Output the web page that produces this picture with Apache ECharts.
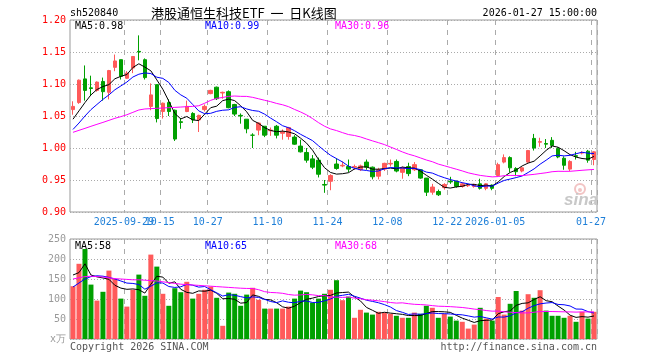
<!DOCTYPE html>
<html><head><meta charset="utf-8">
<script src="https://cdn.jsdelivr.net/npm/echarts@6/dist/echarts.min.js"></script>
<style>html,body{margin:0;padding:0;background:#fff}#c{width:660px;height:360px}</style>
</head><body><div id="c"></div>
<script>
const dates = ['2025-09-16','2025-09-17','2025-09-18','2025-09-19','2025-09-22','2025-09-23','2025-09-24','2025-09-25','2025-09-26','2025-09-29','2025-09-30','2025-10-09','2025-10-10','2025-10-13','2025-10-14','2025-10-15','2025-10-16','2025-10-17','2025-10-20','2025-10-21','2025-10-22','2025-10-23','2025-10-24','2025-10-27','2025-10-28','2025-10-29','2025-10-30','2025-10-31','2025-11-03','2025-11-04','2025-11-05','2025-11-06','2025-11-07','2025-11-10','2025-11-11','2025-11-12','2025-11-13','2025-11-14','2025-11-17','2025-11-18','2025-11-19','2025-11-20','2025-11-21','2025-11-24','2025-11-25','2025-11-26','2025-11-27','2025-11-28','2025-12-01','2025-12-02','2025-12-03','2025-12-04','2025-12-05','2025-12-08','2025-12-09','2025-12-10','2025-12-11','2025-12-12','2025-12-15','2025-12-16','2025-12-17','2025-12-18','2025-12-19','2025-12-22','2025-12-23','2025-12-24','2025-12-25','2025-12-26','2025-12-29','2025-12-30','2025-12-31','2026-01-05','2026-01-06','2026-01-07','2026-01-08','2026-01-09','2026-01-12','2026-01-13','2026-01-14','2026-01-15','2026-01-16','2026-01-19','2026-01-20','2026-01-21','2026-01-22','2026-01-23','2026-01-26','2026-01-27'];

const openP  = [1.060,1.071,1.108,1.094,1.090,1.104,1.087,1.126,1.138,1.109,1.125,1.151,1.138,1.065,1.099,1.057,1.071,1.059,1.041,1.057,1.054,1.044,1.060,1.085,1.095,1.086,1.088,1.068,1.051,1.045,1.020,1.028,1.034,1.027,1.034,1.023,1.018,1.017,1.003,0.993,0.983,0.981,0.943,0.948,0.975,0.972,0.971,0.970,0.966,0.978,0.970,0.956,0.967,0.975,0.979,0.962,0.971,0.966,0.966,0.953,0.931,0.932,0.938,0.948,0.948,0.940,0.941,0.940,0.944,0.937,0.942,0.957,0.978,0.985,0.968,0.964,0.978,1.015,1.009,1.007,1.012,0.999,0.984,0.967,0.988,0.992,0.995,0.982];
const closeP = [1.065,1.106,1.090,1.093,1.103,1.088,1.121,1.136,1.112,1.117,1.143,1.150,1.110,1.083,1.046,1.070,1.057,1.014,1.040,1.065,1.044,1.051,1.065,1.090,1.077,1.087,1.063,1.053,1.050,1.030,1.020,1.039,1.020,1.028,1.020,1.025,1.032,1.006,0.994,0.981,0.970,0.959,0.942,0.957,0.968,0.973,0.967,0.971,0.972,0.970,0.955,0.966,0.976,0.976,0.964,0.969,0.960,0.974,0.953,0.931,0.939,0.927,0.943,0.947,0.940,0.944,0.942,0.943,0.937,0.944,0.937,0.974,0.985,0.969,0.963,0.969,0.996,1.000,1.010,1.006,1.004,0.986,0.973,0.979,0.987,0.993,0.981,0.994];
const lowP   = [1.052,1.069,1.074,1.082,1.088,1.074,1.076,1.120,1.107,1.108,1.117,1.137,1.107,1.059,1.040,1.046,1.050,1.011,1.030,1.056,1.039,1.025,1.057,1.084,1.075,1.077,1.062,1.050,1.038,1.023,1.000,1.020,1.017,1.019,1.015,1.013,1.013,1.005,0.993,0.977,0.967,0.954,0.930,0.934,0.966,0.970,0.962,0.966,0.964,0.966,0.951,0.951,0.964,0.971,0.962,0.952,0.956,0.964,0.952,0.925,0.927,0.925,0.935,0.944,0.938,0.938,0.939,0.938,0.935,0.934,0.934,0.956,0.976,0.962,0.956,0.962,0.977,0.996,1.002,1.000,1.000,0.984,0.966,0.964,0.982,0.990,0.977,0.973];
const highP  = [1.073,1.107,1.129,1.113,1.104,1.110,1.122,1.146,1.138,1.120,1.143,1.176,1.140,1.101,1.099,1.071,1.076,1.060,1.047,1.074,1.056,1.052,1.068,1.091,1.096,1.088,1.090,1.069,1.054,1.045,1.023,1.040,1.034,1.032,1.036,1.029,1.033,1.020,1.013,1.000,0.989,0.985,0.950,0.959,0.984,0.979,0.982,0.974,0.974,0.982,0.971,0.969,0.977,0.982,0.982,0.971,0.977,0.978,0.967,0.953,0.944,0.935,0.945,0.955,0.949,0.946,0.943,0.944,0.952,0.945,0.943,0.977,0.990,0.987,0.970,0.970,0.997,1.022,1.016,1.014,1.017,1.001,0.987,0.981,0.994,0.995,0.997,0.995];
const volume = [132,188,225,136,96,118,171,150,101,81,123,161,108,211,181,113,83,127,117,143,101,113,123,131,103,33,116,113,83,111,128,98,76,76,76,76,81,101,121,117,91,101,113,123,147,97,106,53,73,66,61,68,66,63,58,53,53,66,63,83,78,53,63,56,46,43,26,36,78,51,46,105,61,88,120,71,112,103,122,71,58,58,53,58,43,68,51,68];

// moving-average values at the start of the window (prior history not shown)
const ma5Head  = [1.045,1.058,1.071,1.083];
const ma10Head = [1.029,1.039,1.050,1.060,1.068,1.076,1.083,1.091,1.097];
const ma30Head = [1.0245,1.0276,1.0307,1.0339,1.037,1.040,1.0432,1.0464,1.049,1.052,1.0557,1.0594,1.061,1.0615,1.062,1.0625,1.063,1.0635,1.064,1.0646,1.065,1.066,1.070,1.0745,1.0776,1.079,1.0807,1.0812,1.0807];
const vma5Head  = [160,166,188,160];
const vma10Head = [130,140,150,156,158,157,154,150,145];
const vma30Head = [150,153,156,157,156,155,153,151,150,149,148,148,147,146,145,143,141,139,137,136,135,134,133,132,131,130,129,128,127];

const tickDates = ['2025-09-29','2025-10-15','2025-10-27','2025-11-10','2025-11-24','2025-12-08','2025-12-22','2026-01-05','2026-01-27'];
const tickTexts = ['2025-09-29','10-15','10-27','11-10','11-24','12-08','12-22','2026-01-05','01-27'];
const priceTicks = [0.90,1.20,0.05];
const volTicks = [0,250,50];

function ma(vals, n, head) {
  return vals.map((_, i) => {
    if (i < n - 1) return head[i];
    let s = 0; for (let k = i - n + 1; k <= i; k++) s += vals[k];
    return s / n;
  });
}
const ma5 = ma(closeP,5,ma5Head), ma10 = ma(closeP,10,ma10Head), ma30 = ma(closeP,30,ma30Head);
const vma5 = ma(volume,5,vma5Head), vma10 = ma(volume,10,vma10Head), vma30 = ma(volume,30,vma30Head);
const fp = v => (Math.floor(v*100+1e-6)/100).toFixed(2);
const last = a => a[a.length-1];

const UP='#ff5a5a', DN='#00a000';
const MONO="'DejaVu Sans Mono', monospace";
const isTick = (i, v) => tickDates.indexOf(v) >= 0;
// labels split over two axes so that overlapping neighbours are both drawn
const isTickA = (i, v) => { const k = tickDates.indexOf(v); return k >= 0 && k % 2 === 1; };
const isTickB = (i, v) => { const k = tickDates.indexOf(v); return k >= 0 && k % 2 === 0; };
const fmtTick = v => tickTexts[tickDates.indexOf(v)] || '';

const chart = echarts.init(document.getElementById('c'), null, {renderer:'canvas'});
function txt(x, y, text, color, align, font) {
  return {type:'text', x:x, y:y, silent:true, z:100,
    style:{text:text, fill:color, font: font || ('10px ' + MONO), textAlign:align||'left', textVerticalAlign:'middle', align:align||'left', verticalAlign:'middle'}};
}
const splitDash = {show:true, interval:isTick, lineStyle:{color:'#aaa', type:[5,5], width:1}};
const splitDot = {show:true, lineStyle:{color:'#aaa', type:[1,2], width:1}};
const labelBase = {hideOverlap:false, formatter:fmtTick, color:'#1e7fd8', fontFamily:MONO, fontSize:10, margin:5, padding:[0,6,0,0]};

chart.setOption({
  animation:false,
  backgroundColor:'#fff',
  grid:[
    {left:70, top:20, width:527, height:192, show:true, borderColor:'#999', borderWidth:1},
    {left:70, top:239, width:527, height:100, show:true, borderColor:'#999', borderWidth:1}
  ],
  xAxis:[
    {type:'category', gridIndex:0, data:dates, boundaryGap:true,
     axisLine:{show:false}, axisTick:{show:false}, splitLine:splitDash,
     axisLabel:Object.assign({interval:isTickA}, labelBase)},
    {type:'category', gridIndex:1, data:dates, boundaryGap:true,
     axisLine:{show:false}, axisTick:{show:false}, axisLabel:{show:false}, splitLine:splitDash},
    {type:'category', gridIndex:0, data:dates, boundaryGap:true, position:'bottom',
     axisLine:{show:false}, axisTick:{show:false}, splitLine:{show:false},
     axisLabel:Object.assign({interval:isTickB}, labelBase)}
  ],
  yAxis:[
    {type:'value', gridIndex:0, min:priceTicks[0], max:priceTicks[1], interval:priceTicks[2],
     axisLine:{show:false}, axisTick:{show:false}, splitLine:splitDot,
     axisLabel:{formatter:v=>v.toFixed(2), color:'#ff0000', fontFamily:MONO, fontSize:10, margin:4}},
    {type:'value', gridIndex:1, min:volTicks[0], max:volTicks[1], interval:volTicks[2],
     axisLine:{show:false}, axisTick:{show:false}, splitLine:splitDot,
     axisLabel:{formatter:v=>v===0?'x万':String(v), color:'#999', fontFamily:MONO, fontSize:10, margin:4}}
  ],
  series:[
    {type:'candlestick', xAxisIndex:0, yAxisIndex:0, barWidth:4,
     data:dates.map((d,i)=>[openP[i],closeP[i],lowP[i],highP[i]]),
     itemStyle:{color:UP, color0:DN, borderColor:UP, borderColor0:DN, borderWidth:1}},
    {type:'line', xAxisIndex:0, yAxisIndex:0, data:ma5, symbol:'none', lineStyle:{color:'#000', width:1}, itemStyle:{color:'#000'}},
    {type:'line', xAxisIndex:0, yAxisIndex:0, data:ma10, symbol:'none', lineStyle:{color:'#0000ff', width:1}, itemStyle:{color:'#0000ff'}},
    {type:'line', xAxisIndex:0, yAxisIndex:0, data:ma30, symbol:'none', lineStyle:{color:'#ff00ff', width:1}, itemStyle:{color:'#ff00ff'}},
    {type:'bar', xAxisIndex:1, yAxisIndex:1, barWidth:5,
     data:volume.map((v,i)=>({value:v, itemStyle:{color: closeP[i]>=openP[i]?UP:DN}}))},
    {type:'line', xAxisIndex:1, yAxisIndex:1, data:vma5, symbol:'none', lineStyle:{color:'#000', width:1}, itemStyle:{color:'#000'}},
    {type:'line', xAxisIndex:1, yAxisIndex:1, data:vma10, symbol:'none', lineStyle:{color:'#0000ff', width:1}, itemStyle:{color:'#0000ff'}},
    {type:'line', xAxisIndex:1, yAxisIndex:1, data:vma30, symbol:'none', lineStyle:{color:'#ff00ff', width:1}, itemStyle:{color:'#ff00ff'}}
  ],
  graphic:[
    txt(70,13,'sh520840','#000'),
    txt(151,13,'港股通恒生科技ETF  一  日K线图','#000','left',"13px 'Noto Sans CJK SC'"),
    txt(597,13,'2026-01-27 15:00:00','#000','right'),
    txt(75,26,'MA5:'+fp(last(ma5)),'#000'),
    txt(205,26,'MA10:'+fp(last(ma10)),'#0000ff'),
    txt(335,26,'MA30:'+fp(last(ma30)),'#ff00ff'),
    txt(75,246,'MA5:'+Math.round(last(vma5)),'#000'),
    txt(205,246,'MA10:'+Math.round(last(vma10)),'#0000ff'),
    txt(335,246,'MA30:'+Math.round(last(vma30)),'#ff00ff'),
    txt(70,347,'Copyright 2026 SINA.COM','#555'),
    txt(597,347,'http://finance.sina.com.cn','#555','right'),
    {type:'circle', shape:{cx:580, cy:189, r:5}, silent:true, z:5, style:{fill:'none', stroke:'#f2c4c4', lineWidth:2}},
    {type:'circle', shape:{cx:580, cy:190, r:2}, silent:true, z:5, style:{fill:'#f2c4c4'}},
    txt(581,200,'sina','#c8c8c8','center',"italic bold 17px 'Liberation Sans', sans-serif")
  ]
});
</script></body></html>
